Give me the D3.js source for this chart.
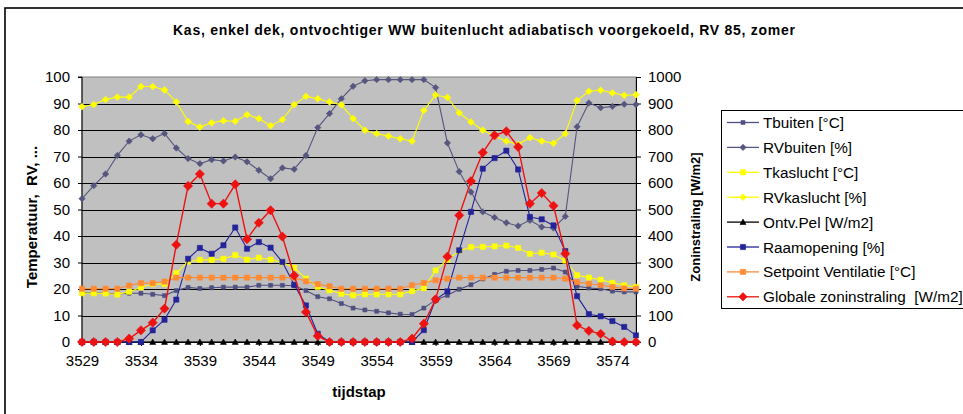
<!DOCTYPE html>
<html>
<head>
<meta charset="utf-8">
<script src="https://cdn.jsdelivr.net/npm/d3@7/dist/d3.min.js"></script>
<style>
    body { margin: 0; background: #fff; }
    svg { display: block; font-family: "Liberation Sans", Arial, sans-serif; }
</style>
</head>
<body>
<div id="chart"></div>
<script>
//VARIABLES - DATA
let steps = [3529, 3530, 3531, 3532, 3533, 3534, 3535, 3536, 3537, 3538, 3539, 3540,
    3541, 3542, 3543, 3544, 3545, 3546, 3547, 3548, 3549, 3550, 3551, 3552,
    3553, 3554, 3555, 3556, 3557, 3558, 3559, 3560, 3561, 3562, 3563, 3564,
    3565, 3566, 3567, 3568, 3569, 3570, 3571, 3572, 3573, 3574, 3575, 3576];
let xTicks = [3529, 3534, 3539, 3544, 3549, 3554, 3559, 3564, 3569, 3574];
let leftTicks = [0, 10, 20, 30, 40, 50, 60, 70, 80, 90, 100];
let rightTicks = [0, 100, 200, 300, 400, 500, 600, 700, 800, 900, 1000];

let tBuiten = [18.5, 18.5, 18.4, 18.1, 18.4, 18.4, 18.0, 17.5, 19.4, 20.6, 20.2, 20.5,
    20.7, 20.7, 20.7, 21.4, 21.4, 21.4, 21.2, 19.4, 17.1, 16.3, 14.5, 12.8,
    12.1, 11.6, 11.0, 10.5, 10.4, 12.8, 15.9, 17.6, 19.9, 21.6, 23.8, 25.5,
    26.7, 27.0, 27.0, 27.4, 27.9, 26.4, 21.0, 20.4, 20.1, 19.2, 18.9, 18.9];
let rvBuiten = [54.1, 59.0, 63.4, 70.4, 75.8, 78.2, 76.7, 78.7, 73.2, 69.2, 67.3, 68.8,
    68.3, 69.8, 68.0, 64.8, 61.6, 65.7, 65.2, 70.4, 80.9, 86.2, 91.8, 96.5,
    98.6, 99.0, 99.0, 99.0, 99.0, 99.0, 96.0, 75.1, 64.3, 56.6, 49.1, 47.0,
    45.0, 43.8, 45.9, 43.4, 43.0, 47.4, 81.2, 90.2, 88.4, 88.9, 89.7, 89.6];
let tKaslucht = [18.4, 18.4, 18.3, 17.9, 19.0, 20.6, 21.9, 21.9, 26.0, 30.3, 31.0, 31.0,
    31.4, 32.8, 31.1, 31.8, 31.1, 30.0, 28.0, 23.9, 20.8, 19.5, 18.2, 17.6,
    18.0, 18.0, 18.0, 18.0, 19.2, 20.3, 27.0, 31.1, 34.4, 35.8, 35.9, 36.1,
    36.4, 35.5, 33.3, 33.7, 33.0, 30.7, 25.2, 24.3, 23.5, 22.3, 21.4, 20.8];
let rvKaslucht = [88.8, 89.6, 91.5, 92.4, 92.4, 96.4, 96.4, 95.1, 90.6, 83.2, 81.1, 82.7,
    83.5, 83.3, 85.8, 84.3, 81.6, 83.9, 89.6, 92.7, 91.8, 90.6, 89.5, 84.3,
    79.9, 78.6, 77.7, 76.7, 75.8, 87.4, 93.2, 92.3, 86.5, 83.0, 79.9, 77.7,
    75.8, 74.6, 77.1, 75.8, 75.0, 78.6, 91.1, 94.6, 95.0, 94.0, 93.1, 93.3];
let ontvPel = [0, 0, 0, 0, 0, 0, 0, 0, 0, 0, 0, 0,
    0, 0, 0, 0, 0, 0, 0, 0, 0, 0, 0, 0,
    0, 0, 0, 0, 0, 0, 0, 0, 0, 0, 0, 0,
    0, 0, 0, 0, 0, 0, 0, 0, 0, 0, 0, 0];
let raamopening = [0, 0, 0, 0, 0, 0, 4.4, 8.4, 16.0, 31.4, 35.5, 33.3,
    36.5, 43.2, 35.2, 37.7, 35.6, 30.2, 21.6, 13.8, 3.1, 0, 0, 0,
    0, 0, 0, 0, 0, 4.5, 16.0, 19.1, 34.6, 49.1, 65.4, 69.4,
    72.2, 65.1, 47.2, 46.3, 44.0, 34.3, 17.3, 10.5, 9.7, 7.9, 5.7, 2.5];
let setpointVent = [20.1, 20.1, 20.1, 20.1, 21.3, 22.2, 22.2, 22.8, 24.3, 24.3, 24.3, 24.3,
    24.3, 24.3, 24.3, 24.3, 24.3, 24.3, 24.3, 22.9, 21.8, 21.0, 20.1, 20.1,
    20.1, 20.1, 20.1, 20.1, 21.4, 22.3, 23.3, 23.9, 24.3, 24.3, 24.3, 24.3,
    24.3, 24.3, 24.3, 24.3, 24.3, 23.9, 22.6, 22.0, 21.4, 20.8, 20.2, 20.1];
let globaleZon = [0, 0, 0, 0, 13, 44, 73, 126, 367, 589, 634, 522,
    522, 595, 388, 450, 497, 398, 251, 113, 23, 0, 0, 0,
    0, 0, 0, 0, 13, 69, 161, 322, 478, 607, 715, 780,
    795, 736, 522, 562, 514, 333, 63, 42, 31, 2, 0, 0];

//SERIES (drawing order = Excel order, secondary axis last)
let series = [
    {name: 'Tbuiten [°C]', values: tBuiten, axis: 'left', color: '#4f4f80', shape: 'square', size: 2},
    {name: 'RVbuiten [%]', values: rvBuiten, axis: 'left', color: '#56567f', shape: 'diamond', size: 3.2},
    {name: 'Tkaslucht [°C]', values: tKaslucht, axis: 'left', color: '#ffff00', shape: 'square', size: 2.6},
    {name: 'RVkaslucht [%]', values: rvKaslucht, axis: 'left', color: '#ffff00', shape: 'diamond', size: 3.4},
    {name: 'Ontv.Pel [W/m2]', values: ontvPel, axis: 'left', color: '#000000', shape: 'triangle', size: 3},
    {name: 'Raamopening [%]', values: raamopening, axis: 'left', color: '#23239a', shape: 'square', size: 2.6},
    {name: 'Setpoint Ventilatie [°C]', values: setpointVent, axis: 'left', color: '#ff8a33', shape: 'square', size: 2.6},
    {name: 'Globale zoninstraling  [W/m2]', values: globaleZon, axis: 'right', color: '#ee1111', shape: 'diamond', size: 4.6}
];

let width = 963, height = 414;
let plot = {left: 82, right: 636, top: 77, bottom: 342};

//FUNCTIONS
function shapePath(shape, r) {
    if (shape == 'square') return 'M' + (-r) + ',' + (-r) + 'h' + (2 * r) + 'v' + (2 * r) + 'h' + (-2 * r) + 'Z';
    if (shape == 'diamond') return 'M0,' + (-r) + 'L' + r + ',0L0,' + r + 'L' + (-r) + ',0Z';
    return 'M0,' + (-r) + 'L' + r + ',' + (r * 0.8) + 'L' + (-r) + ',' + (r * 0.8) + 'Z';
}

initChart();

function initChart() {
    let svg = d3.select('#chart').append('svg')
        .attr('width', width)
        .attr('height', height);

    //Outer border
    svg.append('rect')
        .attr('x', 5).attr('y', 8)
        .attr('width', 1000).attr('height', 500)
        .attr('fill', '#fff')
        .attr('stroke', '#000')
        .attr('stroke-width', 1.6);

    //Title
    svg.append('text')
        .attr('x', 484).attr('y', 35)
        .attr('text-anchor', 'middle')
        .attr('font-size', 14)
        .attr('font-weight', 'bold')
        .attr('textLength', 622)
        .attr('lengthAdjust', 'spacing')
        .text('Kas, enkel dek, ontvochtiger WW buitenlucht adiabatisch voorgekoeld, RV 85, zomer');

    //Scales
    let x = d3.scaleLinear().domain([steps[0], steps[steps.length - 1]]).range([plot.left, plot.right]);
    let yLeft = d3.scaleLinear().domain([0, 100]).range([plot.bottom, plot.top]);
    let yRight = d3.scaleLinear().domain([0, 1000]).range([plot.bottom, plot.top]);

    //Plot area
    svg.append('rect')
        .attr('x', plot.left).attr('y', plot.top)
        .attr('width', plot.right - plot.left).attr('height', plot.bottom - plot.top)
        .attr('fill', '#c0c0c0')
        .attr('stroke', '#808080')
        .attr('stroke-width', 1);

    //Grid
    svg.append('g')
        .selectAll('line')
        .data(leftTicks.slice(1, -1))
        .enter()
        .append('line')
        .attr('x1', plot.left).attr('x2', plot.right)
        .attr('y1', function(d) { return Math.round(yLeft(d)) + 0.5; })
        .attr('y2', function(d) { return Math.round(yLeft(d)) + 0.5; })
        .attr('stroke', '#000')
        .attr('stroke-width', 1);

    //Left axis
    let leftAxis = svg.append('g')
        .attr('transform', 'translate(' + plot.left + ',0)')
        .call(d3.axisLeft(yLeft).tickValues(leftTicks).tickSize(4).tickPadding(8));
    //Right axis
    let rightAxis = svg.append('g')
        .attr('transform', 'translate(' + plot.right + ',0)')
        .call(d3.axisRight(yRight).tickValues(rightTicks).tickFormat(d3.format('d')).tickSize(5).tickPadding(7));
    //X axis
    let xAxis = svg.append('g')
        .attr('transform', 'translate(0,' + plot.bottom + ')')
        .call(d3.axisBottom(x).tickValues(xTicks).tickFormat(d3.format('d')).tickSize(4).tickPadding(9));

    [leftAxis, rightAxis, xAxis].forEach(function(g) {
        g.selectAll('.domain').attr('stroke', '#000').attr('stroke-width', 1);
        g.selectAll('.tick line').attr('stroke', '#000');
        g.selectAll('.tick text')
            .attr('fill', '#000')
            .attr('font-size', 15)
            .attr('font-family', '"Liberation Sans", Arial, sans-serif');
    });
    leftAxis.select('.domain').attr('d', 'M-4,' + plot.top + 'H0V' + plot.bottom + 'H-4');

    //Axis titles
    svg.append('text')
        .attr('transform', 'translate(37,217) rotate(-90)')
        .attr('text-anchor', 'middle')
        .attr('font-size', 15)
        .attr('font-weight', 'bold')
        .attr('xml:space', 'preserve')
        .text('Temperatuur,  RV, ...');
    svg.append('text')
        .attr('transform', 'translate(700,217) rotate(-90)')
        .attr('text-anchor', 'middle')
        .attr('font-size', 13)
        .attr('font-weight', 'bold')
        .text('Zoninstraling [W/m2]');
    svg.append('text')
        .attr('x', 359).attr('y', 397)
        .attr('text-anchor', 'middle')
        .attr('font-size', 15)
        .attr('font-weight', 'bold')
        .text('tijdstap');

    //Lines + markers
    let line = d3.line()
        .x(function(d) { return x(d.step); })
        .y(function(d) { return d.y; });

    series.forEach(function(s) {
        let yScale = s.axis == 'right' ? yRight : yLeft;
        let pts = s.values.map(function(v, i) { return {step: steps[i], y: yScale(v)}; });
        let g = svg.append('g');
        g.append('path')
            .attr('d', line(pts))
            .attr('fill', 'none')
            .attr('stroke', s.color)
            .attr('stroke-width', s.axis == 'right' ? 1.4 : 1.1);
        g.selectAll('path.marker')
            .data(pts)
            .enter()
            .append('path')
            .attr('class', 'marker')
            .attr('transform', function(d) { return 'translate(' + x(d.step) + ',' + d.y + ')'; })
            .attr('d', shapePath(s.shape, s.size))
            .attr('fill', s.color)
            .attr('stroke', s.color)
            .attr('stroke-width', 0.6);
    });

    //Legend
    let legend = svg.append('g');
    legend.append('rect')
        .attr('x', 721.5).attr('y', 110.5)
        .attr('width', 300).attr('height', 198)
        .attr('fill', '#fff')
        .attr('stroke', '#000')
        .attr('stroke-width', 1);
    let items = legend.selectAll('g.item')
        .data(series)
        .enter()
        .append('g')
        .attr('class', 'item')
        .attr('transform', function(d, i) { return 'translate(727,' + (122.5 + i * 24.9) + ')'; });
    items.append('line')
        .attr('x1', 0).attr('x2', 32)
        .attr('stroke', function(d) { return d.color; })
        .attr('stroke-width', 1.3);
    items.append('path')
        .attr('transform', 'translate(16,0)')
        .attr('d', function(d) { return shapePath(d.shape, d.axis == 'right' ? 4.2 : d.size); })
        .attr('fill', function(d) { return d.color; })
        .attr('stroke', function(d) { return d.color; })
        .attr('stroke-width', 0.6);
    items.append('text')
        .attr('x', 36).attr('y', 5.5)
        .attr('font-size', 15.3)
        .attr('xml:space', 'preserve')
        .text(function(d) { return d.name; });
}
</script>
</body>
</html>
